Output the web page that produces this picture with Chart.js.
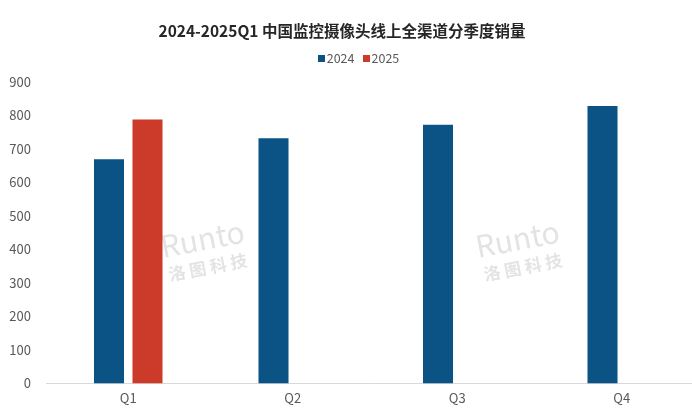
<!DOCTYPE html>
<html>
<head>
<meta charset="utf-8">
<script src="https://cdn.jsdelivr.net/npm/chart.js@4"></script>
<style>
  html, body { margin: 0; padding: 0; background: #fff; overflow: hidden; }
  body { font-family: "Noto Sans CJK SC", "Noto Sans", sans-serif; }
  #wrap { position: relative; width: 704px; height: 413px; }
  #title {
    position: absolute; left: 0; top: 20px; width: 684px;
    text-align: center; line-height: 20px;
    font-size: 15.5px; font-weight: bold; color: #262626;
  }
  #legend {
    position: absolute; left: 0; top: 50px; width: 717px;
    text-align: center; line-height: 16px;
    font-size: 12.5px; color: #595959;
  }
  #legend span.item { margin: 0 4px; }
  #legend i { display: inline-block; width: 7px; height: 7px; margin-right: 2px; vertical-align: 1px; }
  #chartBox { position: absolute; left: 0; top: 0; width: 704px; height: 413px; }
</style>
</head>
<body>
<div id="wrap">
  <div id="chartBox"><canvas id="salesChart"></canvas></div>
  <div id="title">2024-2025Q1 中国监控摄像头线上全渠道分季度销量</div>
  <div id="legend"></div>
</div>
<script>
// quarters on the x axis
const quarters = ['Q1', 'Q2', 'Q3', 'Q4'];
// sales per quarter
const sales2024 = [669, 732, 772, 828];
const sales2025 = [788, null, null, null];
const yTicks = [0, 100, 200, 300, 400, 500, 600, 700, 800, 900];
const seriesNames = ['2024', '2025'];
const seriesColors = ['#0a5384', '#cc3b2a'];

const fontFamily = '"Noto Sans CJK SC", "Noto Sans", sans-serif';

// faint "Runto 洛图科技" watermark
const watermark = {
  id: 'watermark',
  beforeDatasetsDraw(chart) {
    const ctx = chart.ctx;
    const spots = [[205, 252], [520, 252]];
    ctx.save();
    ctx.fillStyle = 'rgba(175,175,175,0.35)';
    ctx.textAlign = 'center';
    spots.forEach(([x, y]) => {
      ctx.save();
      ctx.translate(x, y);
      ctx.rotate(-0.19);
      ctx.font = '30px ' + fontFamily;
      ctx.fillText('Runto', 0, -2);
      ctx.font = 'bold 17px ' + fontFamily;
      ctx.fillText('洛 图 科 技', 0, 22);
      ctx.restore();
    });
    ctx.restore();
  }
};

const chart = new Chart(document.getElementById('salesChart'), {
  type: 'bar',
  data: {
    labels: quarters,
    datasets: [
      { label: seriesNames[0], data: sales2024, backgroundColor: seriesColors[0] },
      { label: seriesNames[1], data: sales2025, backgroundColor: seriesColors[1] }
    ]
  },
  options: {
    responsive: true,
    maintainAspectRatio: false,
    animation: false,
    categoryPercentage: 0.468,
    barPercentage: 0.78,
    layout: { padding: { left: 0, right: 0, top: 82, bottom: 0 } },
    plugins: {
      legend: { display: false },
      tooltip: { enabled: false }
    },
    scales: {
      x: {
        grid: { display: false, drawTicks: false },
        border: { color: '#d9d9d9' },
        ticks: { color: '#595959', font: { family: fontFamily, size: 13 }, padding: 7 }
      },
      y: {
        min: 0,
        max: 900,
        afterBuildTicks(axis) { axis.ticks = yTicks.map(v => ({ value: v })); },
        afterFit(axis) { axis.width = 46; },
        grid: { display: false, drawTicks: false },
        border: { display: false },
        ticks: { color: '#595959', font: { family: fontFamily, size: 13 }, padding: 15 }
      }
    }
  },
  plugins: [watermark]
});

// html legend built from the datasets
document.getElementById('legend').innerHTML = chart.data.datasets
  .map(ds => `<span class="item"><i style="background:${ds.backgroundColor}"></i>${ds.label}</span>`)
  .join('');
</script>
</body>
</html>
